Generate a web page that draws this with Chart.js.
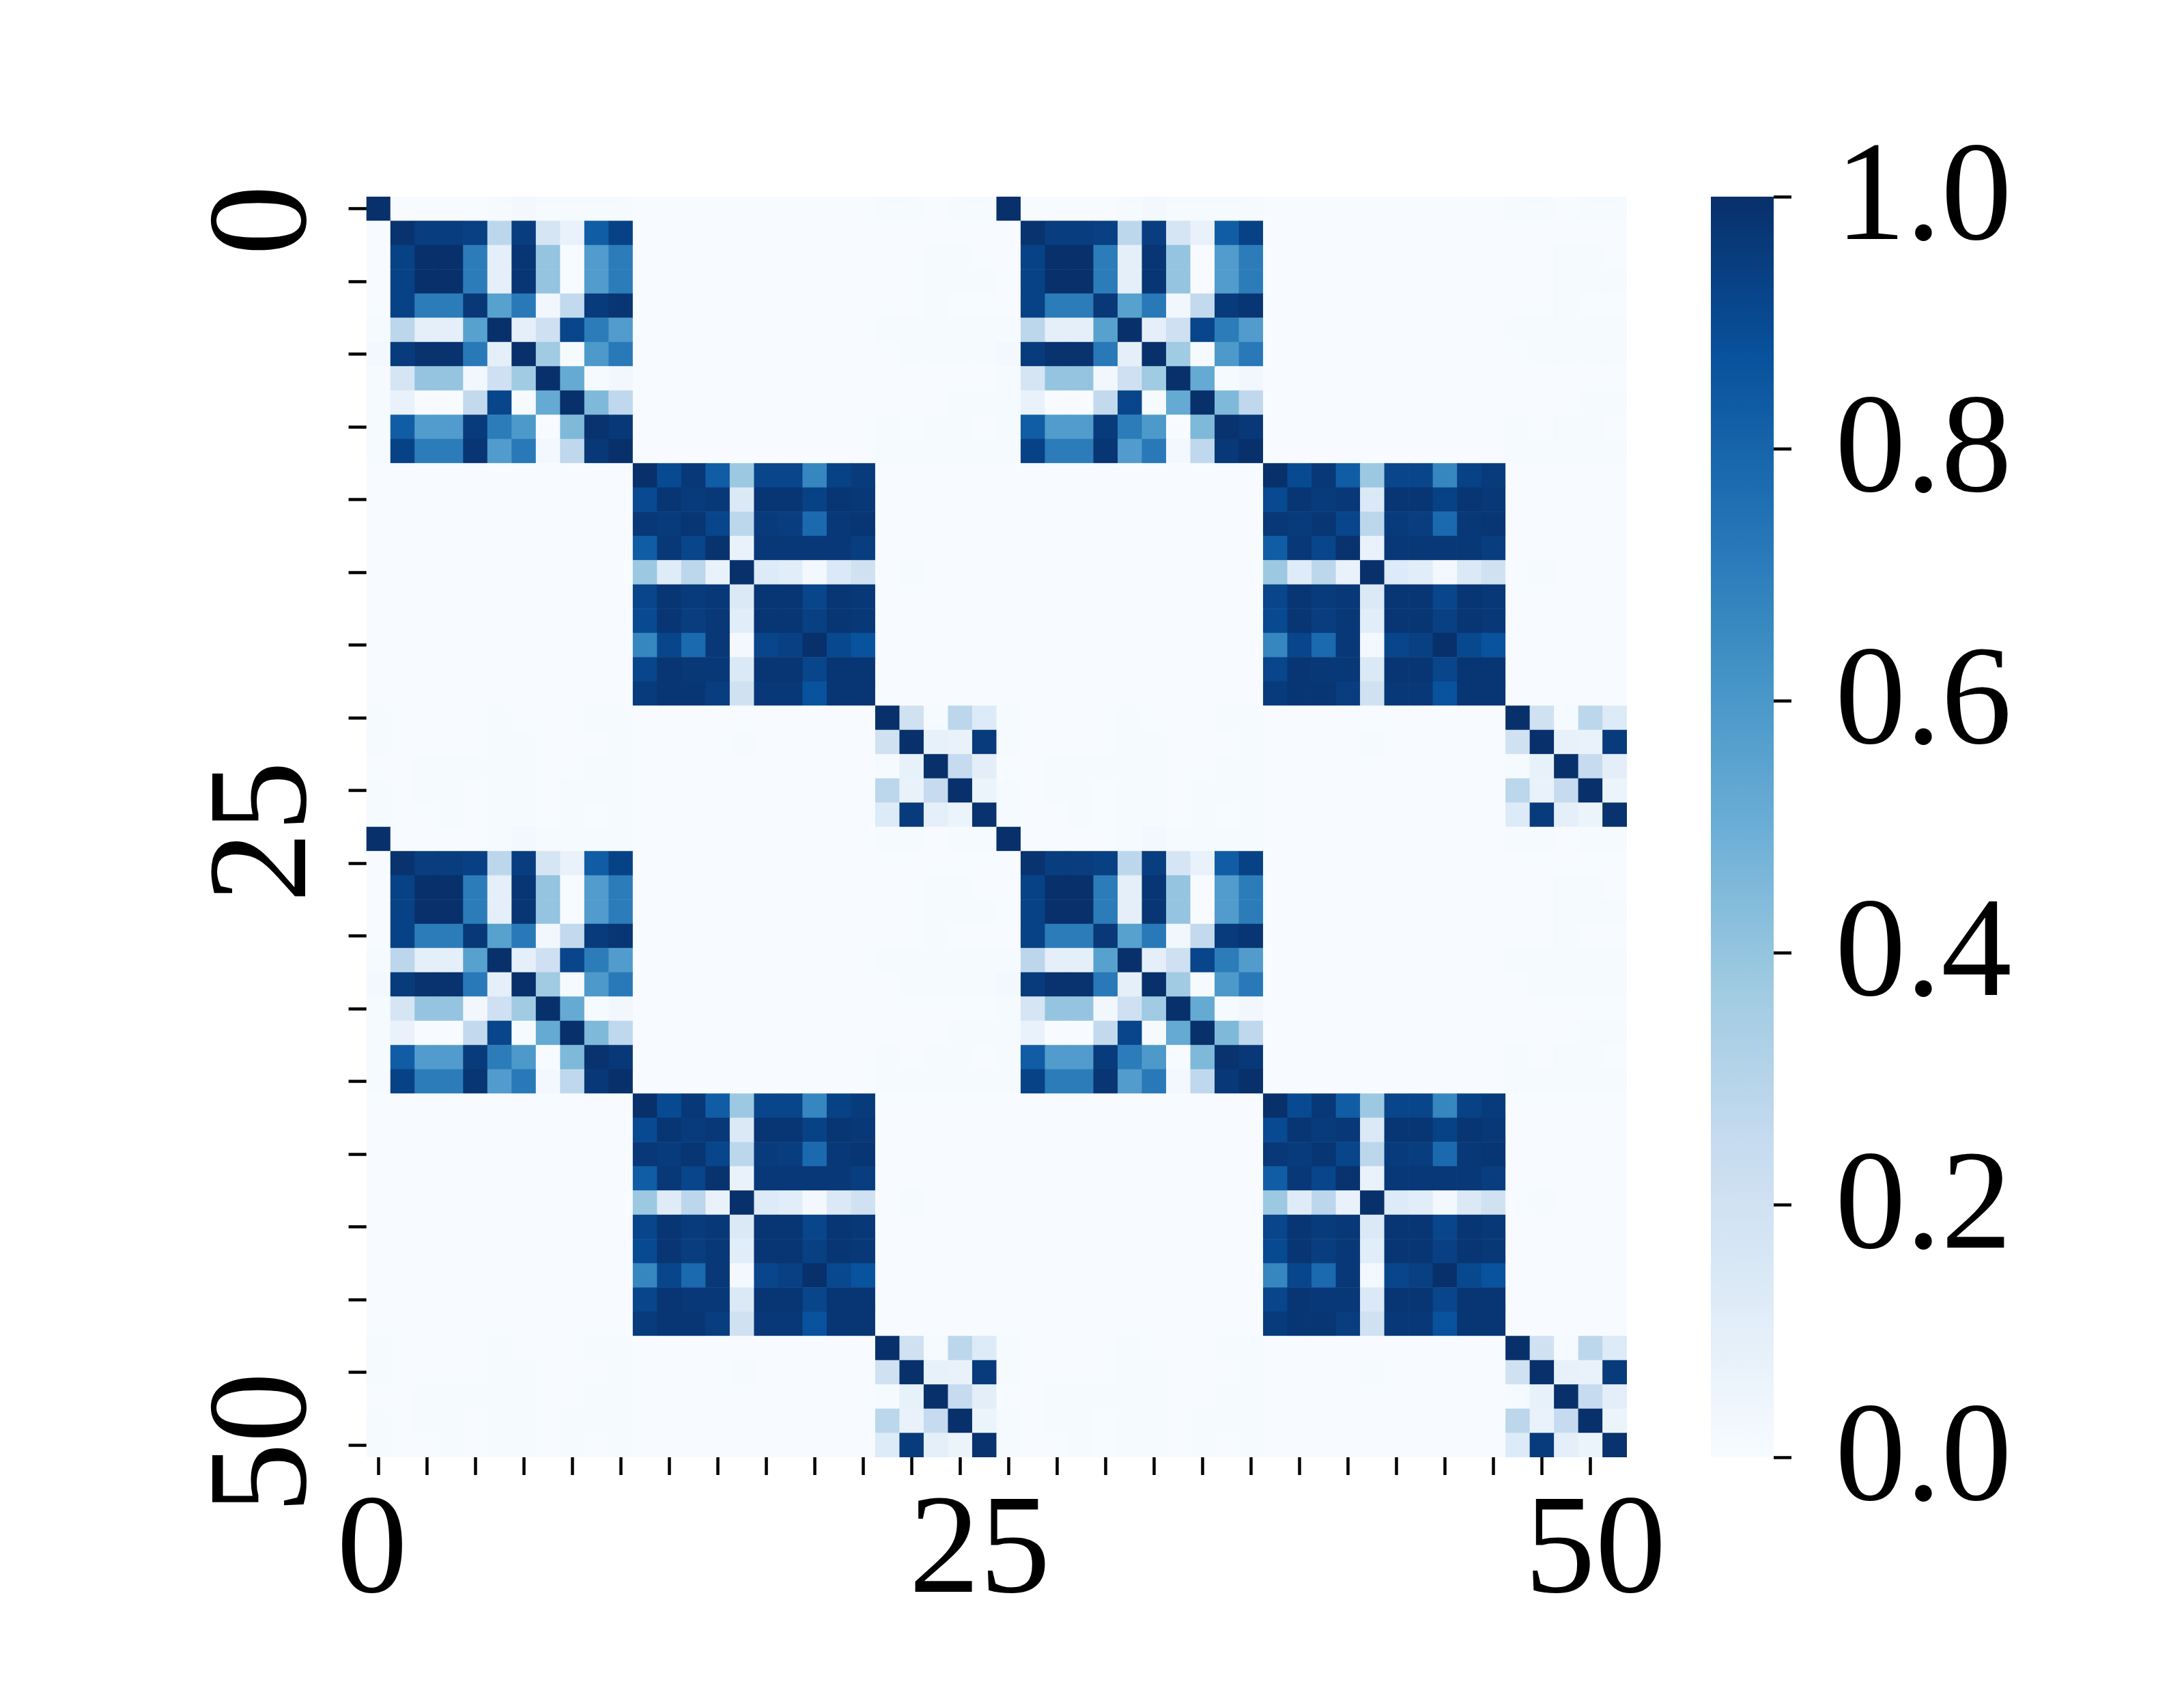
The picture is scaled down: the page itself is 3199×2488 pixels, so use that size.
<!DOCTYPE html>
<html><head><meta charset="utf-8">
<style>html,body{margin:0;padding:0;background:#fff;width:3199px;height:2488px;overflow:hidden}
canvas{position:absolute;left:0;top:0}</style>
<script src="https://cdn.jsdelivr.net/npm/chart.js@4/dist/chart.umd.min.js"></script>
</head><body>
<canvas id="heat" width="3199" height="2488"></canvas>
<canvas id="bar" width="3199" height="2488"></canvas>
<script>
// ---------- values ----------
const blockA = [
[.99,.95,.95,.94,.28,.95,.17,.07,.83,.93],
[.93,1.0,1.0,.71,.09,.98,.40,.00,.58,.71],
[.93,1.0,1.0,.71,.09,.98,.40,.00,.58,.71],
[.93,.71,.71,.97,.56,.72,.03,.26,.96,.98],
[.28,.09,.09,.56,1.0,.09,.21,.92,.71,.58],
[.96,.99,.99,.72,.09,1.0,.37,.01,.59,.72],
[.17,.40,.40,.03,.21,.37,1.0,.52,.01,.03],
[.07,.00,.00,.26,.92,.01,.52,1.0,.45,.27],
[.83,.58,.58,.96,.71,.59,.00,.45,.99,.97],
[.93,.71,.71,.98,.58,.72,.02,.27,.97,1.0]];
const blockB = [
[1.0,.90,.97,.83,.38,.92,.92,.67,.93,.96],
[.90,.98,.96,.97,.14,.98,.98,.93,.98,.97],
[.97,.96,.98,.92,.28,.96,.95,.78,.97,.98],
[.83,.97,.92,.99,.07,.97,.97,.97,.97,.95],
[.38,.12,.28,.07,1.0,.13,.11,.02,.14,.20],
[.92,.98,.96,.97,.14,.98,.98,.92,.98,.97],
[.90,.98,.95,.97,.11,.98,.98,.94,.98,.97],
[.67,.92,.78,.97,.02,.92,.94,1.0,.91,.87],
[.92,.98,.97,.97,.14,.98,.98,.92,.98,.98],
[.96,.98,.98,.95,.20,.97,.97,.87,.98,.98]];
const blockC = [
[1.0,.20,.01,.28,.13],
[.20,1.0,.08,.07,.96],
[.01,.08,1.0,.25,.10],
[.28,.07,.25,1.0,.06],
[.13,.96,.09,.06,.99]];
const faintRow0 = [1.0,.00,.00,.00,.00,.01,.02,.01,.01,.01,.01,.00,.00,.00,.00,.00,.00,.00,.00,.00,.00,.01,.01,.00,.01,.01];
const faintC = [
[.00,.00,.00,.00,.00,.01,.00,.00,.00,.01,.01,.00,.00,.00,.00,.00,.00,.00,.00,.00,.00],
[.00,.00,.00,.00,.00,.01,.01,.00,.00,.00,.01,.00,.00,.00,.00,.01,.00,.00,.00,.00,.00],
[.00,.00,.01,.01,.01,.01,.01,.00,.00,.01,.01,.00,.00,.00,.00,.00,.00,.00,.00,.00,.00],
[.00,.00,.01,.01,.00,.01,.01,.00,.01,.01,.01,.00,.00,.00,.00,.00,.00,.00,.00,.00,.00],
[.00,.00,.00,.01,.00,.01,.01,.00,.01,.00,.01,.00,.00,.00,.00,.00,.00,.00,.00,.00,.00]];
const repeatsEvery = 26;
const xTickMarks = [.5,2.5,4.5,6.5,8.5,10.5,12.5,14.5,16.5,18.5,20.5,22.5,24.5,26.5,28.5,30.5,32.5,34.5,36.5,38.5,40.5,42.5,44.5,46.5,48.5,50.5];
const yTickMarks = [.5,3.5,6.5,9.5,12.5,15.5,18.5,21.5,24.5,27.5,30.5,33.5,36.5,39.5,42.5,45.5,48.5,51.5];
const xTickLabels = [[.24,'0'],[25.3,'25'],[50.7,'50']];
const yTickLabels = [[.97,'0'],[26.2,'25'],[51.4,'50']];
const colorbarTicks = [0,.2,.4,.6,.8,1];
const colorbarLabels = [[-.004,'0.0'],[.196,'0.2'],[.396,'0.4'],[.596,'0.6'],[.796,'0.8'],[.996,'1.0']];
const BLUES = ['#f7fbff','#deebf7','#c6dbef','#9ecae1','#6baed6','#4292c6','#2171b5','#08519c','#08306b'];

// ---------- helpers ----------
const hex = h => [1,3,5].map(i => parseInt(h.substr(i,2),16));
function blues(v){
  const t = Math.min(Math.max(v,0),1)*(BLUES.length-1), i = Math.min(Math.floor(t),BLUES.length-2), f = t-i;
  const a = hex(BLUES[i]), b = hex(BLUES[i+1]);
  return `rgb(${a.map((c,k)=>Math.round(c+(b[k]-c)*f)).join(',')})`;
}
function baseValue(r,c){
  if (r===0) return faintRow0[c];
  if (c===0) return faintRow0[r];
  const g = i => i<=10 ? 0 : i<=20 ? 1 : 2;
  const gr = g(r), gc = g(c);
  if (gr===gc) return gr===0 ? blockA[r-1][c-1] : gr===1 ? blockB[r-11][c-11] : blockC[r-21][c-21];
  if (gr===2) return faintC[r-21][c];
  if (gc===2) return faintC[c-21][r];
  return 0;
}
const cells = [], cellColors = [];
for (let r=0;r<repeatsEvery*2;r++) for (let c=0;c<repeatsEvery*2;c++){
  cells.push({x:c+.5, y:[r,r+1]});
  cellColors.push(blues(baseValue(r%repeatsEvery,c%repeatsEvery)));
}
const FONT = {family:'"Liberation Serif"', size:207, weight:'normal'};
const TICK_LEN = 26, TICK_W = 4.5, CELL_W = 35.51;
function tickSet(marks,labels){
  const labelAt = new Map(labels.map(l=>[l[0],l[1]]));
  const all = [...marks.map(v=>({value:v})),...labels.map(l=>({value:l[0]}))].sort((a,b)=>a.value-b.value);
  return {all, labelAt};
}
const xt = tickSet(xTickMarks,xTickLabels), yt = tickSet(yTickMarks,yTickLabels), ct = tickSet(colorbarTicks,colorbarLabels);
const markColor = set => c => (c.tick && set.labelAt.has(c.tick.value)) ? 'rgba(0,0,0,0)' : '#000';

Chart.defaults.animation = false;
new Chart(document.getElementById('heat'),{
  type:'bar',
  data:{datasets:[{data:cells, backgroundColor:cellColors, borderWidth:0, barThickness:CELL_W}]},
  options:{responsive:false, events:[], animation:false,
    layout:{padding:{left:236.6,right:816,top:288,bottom:54}},
    plugins:{legend:{display:false},tooltip:{enabled:false}},
    scales:{
      x:{type:'linear',min:0,max:52,offset:false,position:'bottom',
        afterBuildTicks:s=>{s.ticks=xt.all.map(t=>({...t}))},
        afterFit:s=>{s.height=300},
        border:{display:false},
        grid:{offset:false,drawOnChartArea:false,drawTicks:true,tickLength:TICK_LEN,tickWidth:TICK_W,tickColor:markColor(xt)},
        ticks:{autoSkip:false,maxRotation:0,minRotation:0,color:'#000',font:FONT,padding:-8,
          callback:v=>xt.labelAt.get(v)||''}},
      y:{type:'linear',min:0,max:52,reverse:true,position:'left',
        afterBuildTicks:s=>{s.ticks=yt.all.map(t=>({...t}))},
        afterFit:s=>{s.width=300},
        border:{display:false},
        grid:{offset:false,drawOnChartArea:false,drawTicks:true,tickLength:TICK_LEN,tickWidth:TICK_W,tickColor:markColor(yt)},
        ticks:{autoSkip:false,minRotation:90,maxRotation:90,crossAlign:'center',color:'#000',font:FONT,padding:14,
          callback:v=>yt.labelAt.get(v)||''}}
    }
  }
});
new Chart(document.getElementById('bar'),{
  type:'bar',
  data:{labels:['colorbar'],datasets:[{data:[[0,1]],borderWidth:0,barPercentage:1,categoryPercentage:1,
    backgroundColor:c=>{
      const a=c.chart.chartArea; if(!a) return BLUES[4];
      const g=c.chart.ctx.createLinearGradient(0,a.bottom,0,a.top);
      BLUES.forEach((h,i)=>g.addColorStop(i/(BLUES.length-1),h));
      return g;}}]},
  options:{responsive:false, events:[], animation:false,
    layout:{padding:{left:2506,right:101,top:288,bottom:354}},
    plugins:{legend:{display:false},tooltip:{enabled:false}},
    scales:{
      x:{display:false},
      y:{type:'linear',min:0,max:1,position:'right',
        afterBuildTicks:s=>{s.ticks=ct.all.map(t=>({...t}))},
        afterFit:s=>{s.width=500},
        border:{display:false},
        grid:{drawOnChartArea:false,drawTicks:true,tickLength:TICK_LEN,tickWidth:TICK_W,tickColor:markColor(ct)},
        ticks:{autoSkip:false,color:'#000',font:FONT,padding:64,callback:v=>ct.labelAt.get(v)||''}}
    }
  }
});
</script>
</body></html>
